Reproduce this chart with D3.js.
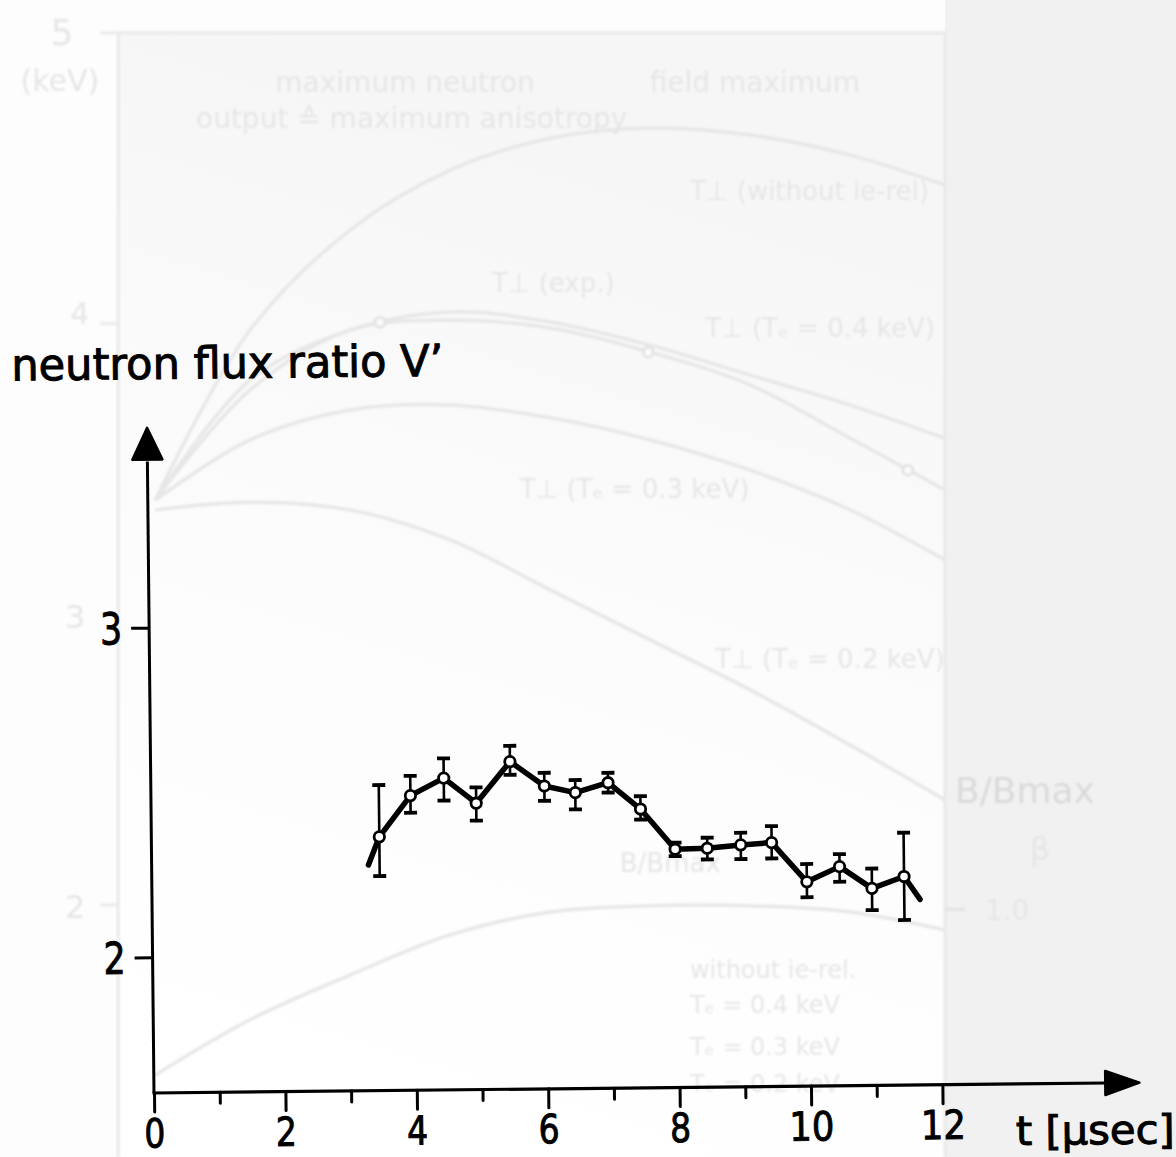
<!DOCTYPE html>
<html>
<head>
<meta charset="utf-8">
<script src="https://cdn.jsdelivr.net/npm/d3@7"></script>
<style>
  html, body { margin: 0; padding: 0; background: #ffffff; }
  svg { display: block; }
</style>
</head>
<body>
<svg id="chart" width="1176" height="1157"></svg>
<script>
// ---- neutron flux ratio V' versus time ----
const times     = [3.47, 3.95, 4.46, 4.95, 5.47, 5.99, 6.46, 6.96, 7.45, 7.97, 8.46, 8.97, 9.44, 9.97, 10.47, 10.96, 11.45];
const ratio     = [2.358, 2.482, 2.534, 2.457, 2.582, 2.507, 2.486, 2.515, 2.434, 2.311, 2.313, 2.322, 2.328, 2.208, 2.253, 2.186, 2.221];
const ratioHigh = [2.515, 2.542, 2.594, 2.505, 2.630, 2.547, 2.524, 2.545, 2.473, 2.331, 2.345, 2.359, 2.378, 2.262, 2.291, 2.246, 2.354];
const ratioLow  = [2.239, 2.430, 2.466, 2.404, 2.542, 2.462, 2.435, 2.485, 2.402, 2.290, 2.279, 2.279, 2.280, 2.161, 2.207, 2.120, 2.089];
// the hand-drawn trace runs a little past the first and last measurement
const traceStart = [3.30, 2.273];
const traceEnd   = [11.69, 2.151];

const xMajorTicks = [0, 2, 4, 6, 8, 10, 12];
const xMinorTicks = [1, 3, 5, 7, 9, 11];
const yTicks      = [2, 3];

// ---- faint temperature plot printed behind (T in keV versus time) ----
const bgTimes      = [0.08, 1.51, 3.02, 4.53, 6.04, 7.55, 9.06, 10.57, 12.0];
const bgNoRel      = [3.393, 3.978, 4.322, 4.528, 4.638, 4.673, 4.649, 4.580, 4.477];
const bgTe04       = [3.393, 3.806, 3.978, 4.040, 4.006, 3.926, 3.823, 3.720, 3.606];
const bgExp        = [3.393, 3.772, 3.978, 4.012, 3.985, 3.902, 3.789, 3.606, 3.428];
const bgTe03       = [3.393, 3.600, 3.703, 3.720, 3.676, 3.600, 3.496, 3.359, 3.187];
const bgTe02       = [3.359, 3.386, 3.359, 3.256, 3.084, 2.912, 2.740, 2.550, 2.361];
const bgField      = [1.415, 1.605, 1.759, 1.897, 1.976, 1.997, 1.997, 1.976, 1.914];
const bgExpPointsT = [3.47, 7.52, 11.44];
const bgExpPointsV = [4.005, 3.902, 3.496];
const bgTickValues = [5, 4, 3, 2];
const bgLabels = [
  { text: "maximum neutron",              t: 3.85,  v: 4.797, anchor: "middle", size: 28 },
  { text: "output ≙ maximum anisotropy",  t: 3.95,  v: 4.673, anchor: "middle", size: 28 },
  { text: "field maximum",                t: 9.13,  v: 4.797, anchor: "middle", size: 28 },
  { text: "T⊥ (without ie-rel)",          t: 8.15,  v: 4.425, anchor: "start",  size: 26 },
  { text: "T⊥ (exp.)",                    t: 5.16,  v: 4.109, anchor: "start",  size: 26 },
  { text: "T⊥ (Tₑ = 0.4 keV)",            t: 8.38,  v: 3.954, anchor: "start",  size: 26 },
  { text: "T⊥ (Tₑ = 0.3 keV)",            t: 5.58,  v: 3.400, anchor: "start",  size: 26 },
  { text: "T⊥ (Tₑ = 0.2 keV)",            t: 8.53,  v: 2.815, anchor: "start",  size: 26 },
  { text: "B/Bmax",                       t: 7.09,  v: 2.114, anchor: "start",  size: 26 },
  { text: "without ie-rel.",              t: 8.15,  v: 1.749, anchor: "start",  size: 24 },
  { text: "Tₑ = 0.4 keV",                 t: 8.15,  v: 1.628, anchor: "start",  size: 24 },
  { text: "Tₑ = 0.3 keV",                 t: 8.15,  v: 1.484, anchor: "start",  size: 24 },
  { text: "Tₑ = 0.2 keV",                 t: 8.15,  v: 1.357, anchor: "start",  size: 24 },
  { text: "B/Bmax",                       t: 12.15, v: 2.351, anchor: "start",  size: 36 },
  { text: "β",                            t: 13.28, v: 2.155, anchor: "start",  size: 32 },
  { text: "1.0",                          t: 12.60, v: 1.948, anchor: "start",  size: 28 },
  { text: "5",                            t: -1.33, v: 4.958, anchor: "middle", size: 36 },
  { text: "(keV)",                        t: -1.36, v: 4.800, anchor: "middle", size: 30 },
  { text: "4",                            t: -1.06, v: 4.000, anchor: "middle", size: 30 },
  { text: "3",                            t: -1.13, v: 2.953, anchor: "middle", size: 32 },
  { text: "2",                            t: -1.13, v: 1.955, anchor: "middle", size: 32 }
];

const W = 1176, H = 1157;
const svg = d3.select("#chart");
const FONT = "'DejaVu Sans', 'Liberation Sans', sans-serif";

// ================= back layer =================
const gx = d3.scaleLinear().domain([0, 12]).range([150, 945]);
const gy = d3.scaleLinear().domain([2, 5]).range([905, 33]);

const defs = svg.append("defs");
const grad = defs.append("linearGradient").attr("id", "paper")
  .attr("x1", "0.2").attr("y1", "0").attr("x2", "0").attr("y2", "0.9");
grad.append("stop").attr("offset", "0").attr("stop-color", "#f6f6f6");
grad.append("stop").attr("offset", "0.5").attr("stop-color", "#fcfcfc");
grad.append("stop").attr("offset", "1").attr("stop-color", "#ffffff");
defs.append("filter").attr("id", "soft")
  .append("feGaussianBlur").attr("stdDeviation", 1.2);

svg.append("rect").attr("width", W).attr("height", H).attr("fill", "#fdfdfd");
svg.append("rect").attr("x", gx(-0.48)).attr("y", gy(5.0))
  .attr("width", gx(12) - gx(-0.48)).attr("height", H - gy(5.0))
  .attr("fill", "url(#paper)");
svg.append("rect").attr("x", gx(12)).attr("y", 0)
  .attr("width", W - gx(12)).attr("height", H).attr("fill", "#f1f1f1");

const back = svg.append("g").attr("filter", "url(#soft)");
back.append("path")
  .attr("d", `M${gx(-0.48)},${H} V${gy(5.0)} H${gx(12)} V${H}`)
  .attr("fill", "none").attr("stroke", "#e9e9e9").attr("stroke-width", 3);

back.selectAll("line.btick").data(bgTickValues).join("line")
  .attr("class", "btick")
  .attr("x1", gx(-0.75)).attr("x2", gx(-0.48))
  .attr("y1", d => gy(d)).attr("y2", d => gy(d))
  .attr("stroke", "#eaeaea").attr("stroke-width", 3);
back.append("line")
  .attr("x1", gx(12)).attr("x2", gx(12.3))
  .attr("y1", gy(1.985)).attr("y2", gy(1.985))
  .attr("stroke", "#e2e2e2").attr("stroke-width", 3);

const bgLine = d3.line().x(d => gx(d[0])).y(d => gy(d[1])).curve(d3.curveCatmullRom);
[bgNoRel, bgTe04, bgExp, bgTe03, bgTe02, bgField].forEach(series => {
  back.append("path")
    .attr("d", bgLine(bgTimes.map((t, i) => [t, series[i]])))
    .attr("fill", "none").attr("stroke", "#e7e7e7").attr("stroke-width", 3.5);
});
back.selectAll("circle.bpt").data(bgExpPointsT).join("circle")
  .attr("class", "bpt")
  .attr("cx", d => gx(d)).attr("cy", (d, i) => gy(bgExpPointsV[i])).attr("r", 5)
  .attr("fill", "#fafafa").attr("stroke", "#e0e0e0").attr("stroke-width", 2.5);

back.selectAll("text.blab").data(bgLabels).join("text")
  .attr("class", "blab")
  .attr("x", d => gx(d.t)).attr("y", d => gy(d.v))
  .attr("text-anchor", d => d.anchor)
  .attr("font-family", FONT).attr("font-size", d => d.size)
  .attr("fill", d => d.size >= 36 && d.t > 12 ? "#dadada" : "#e6e6e6")
  .text(d => d.text);

// ================= main chart =================
// the sheet sits slightly turned; everything is drawn in the turned frame
const ORIGIN = [154, 1093];
const x = d3.scaleLinear().domain([0, 12]).range([ORIGIN[0], ORIGIN[0] + 12 * 65.7]);
const y = d3.scaleLinear().domain([2, 3]).range([957.2, 627.6]);
const yMin = 1.588, yArrowTip = 3.606, yArrowBase = 3.51;
const xArrowTip = 15.0, xArrowBase = 14.48;
const INK = "#000";

const g = svg.append("g").attr("transform", `rotate(-0.6, ${ORIGIN[0]}, ${ORIGIN[1]})`);

// axis lines with filled arrow heads
g.append("line")
  .attr("x1", x(0)).attr("x2", x(0)).attr("y1", y(yMin)).attr("y2", y(yArrowBase) + 2)
  .attr("stroke", INK).attr("stroke-width", 3);
g.append("path")
  .attr("d", `M${x(0)},${y(yArrowTip)} L${x(0) + 15},${y(yArrowBase)} L${x(0) - 15},${y(yArrowBase)} Z`)
  .attr("fill", INK).attr("stroke", INK).attr("stroke-width", 2.5).attr("stroke-linejoin", "round");
g.append("line")
  .attr("x1", x(0) - 1.5).attr("x2", x(xArrowBase) + 2).attr("y1", y(yMin)).attr("y2", y(yMin))
  .attr("stroke", INK).attr("stroke-width", 3.2);
g.append("path")
  .attr("d", `M${x(xArrowTip)},${y(yMin)} L${x(xArrowBase)},${y(yMin) - 12} L${x(xArrowBase)},${y(yMin) + 12} Z`)
  .attr("fill", INK).attr("stroke", INK).attr("stroke-width", 2.5).attr("stroke-linejoin", "round");

// x axis ticks
const xAxisMajor = d3.axisBottom(x).tickValues(xMajorTicks).tickSize(19).tickPadding(7)
  .tickFormat(d3.format("d"));
const xAxisMinor = d3.axisBottom(x).tickValues(xMinorTicks).tickSize(11).tickFormat("");
const gxMaj = g.append("g").attr("transform", `translate(0,${y(yMin)})`).call(xAxisMajor);
const gxMin = g.append("g").attr("transform", `translate(0,${y(yMin)})`).call(xAxisMinor);
[gxMaj, gxMin].forEach(a => {
  a.select(".domain").remove();
  a.selectAll(".tick line").attr("stroke", INK).attr("stroke-width", 3).attr("stroke-linecap", "round");
});
gxMaj.selectAll(".tick text")
  .attr("font-family", FONT).attr("font-size", 40).attr("fill", INK)
  .attr("stroke", INK).attr("stroke-width", 1)
  .attr("dy", "0.71em")
  .attr("textLength", d => String(d).length * 21 + (String(d).length - 1) * 3)
  .attr("lengthAdjust", "spacingAndGlyphs");

// y axis ticks
const yAxis = d3.axisLeft(y).tickValues(yTicks).tickSize(18).tickPadding(9)
  .tickFormat(d3.format("d"));
const gyAx = g.append("g").attr("transform", `translate(${x(0)},0)`).call(yAxis);
gyAx.select(".domain").remove();
gyAx.selectAll(".tick line").attr("stroke", INK).attr("stroke-width", 3);
gyAx.selectAll(".tick text")
  .attr("font-family", FONT).attr("font-size", 44).attr("fill", INK)
  .attr("stroke", INK).attr("stroke-width", 1)
  .attr("dy", "0.36em")
  .attr("textLength", 22).attr("lengthAdjust", "spacingAndGlyphs");

// axis titles
g.append("text")
  .attr("x", 19).attr("y", 379)
  .attr("font-family", FONT).attr("font-size", 44).attr("fill", INK)
  .attr("stroke", INK).attr("stroke-width", 1)
  .attr("textLength", 432).attr("lengthAdjust", "spacingAndGlyphs")
  .text("neutron flux ratio V’");
g.append("text")
  .attr("x", x(13.11)).attr("y", 1154)
  .attr("font-family", FONT).attr("font-size", 40).attr("fill", INK)
  .attr("stroke", INK).attr("stroke-width", 1)
  .attr("textLength", 159).attr("lengthAdjust", "spacingAndGlyphs")
  .text("t [µsec]");

// error bars
const pts = times.map((t, i) => ({ t, v: ratio[i], hi: ratioHigh[i], lo: ratioLow[i] }));
const bars = g.append("g");
bars.selectAll("line.err").data(pts).join("line")
  .attr("class", "err")
  .attr("x1", d => x(d.t)).attr("x2", d => x(d.t))
  .attr("y1", d => y(d.hi)).attr("y2", d => y(d.lo))
  .attr("stroke", INK).attr("stroke-width", 2.6);
["hi", "lo"].forEach(k => {
  bars.selectAll(`line.cap-${k}`).data(pts).join("line")
    .attr("class", `cap-${k}`)
    .attr("x1", d => x(d.t) - 6.5).attr("x2", d => x(d.t) + 6.5)
    .attr("y1", d => y(d[k])).attr("y2", d => y(d[k]))
    .attr("stroke", INK).attr("stroke-width", 3.8);
});

// connecting trace
const trace = [traceStart, ...pts.map(d => [d.t, d.v]), traceEnd];
g.append("path")
  .attr("d", d3.line().x(d => x(d[0])).y(d => y(d[1]))(trace))
  .attr("fill", "none").attr("stroke", INK).attr("stroke-width", 5.5)
  .attr("stroke-linejoin", "round").attr("stroke-linecap", "round");

// open circles at the measurements
g.selectAll("circle.pt").data(pts).join("circle")
  .attr("class", "pt")
  .attr("cx", d => x(d.t)).attr("cy", d => y(d.v)).attr("r", 5.2)
  .attr("fill", "#fff").attr("stroke", INK).attr("stroke-width", 2.8);
</script>
</body>
</html>
